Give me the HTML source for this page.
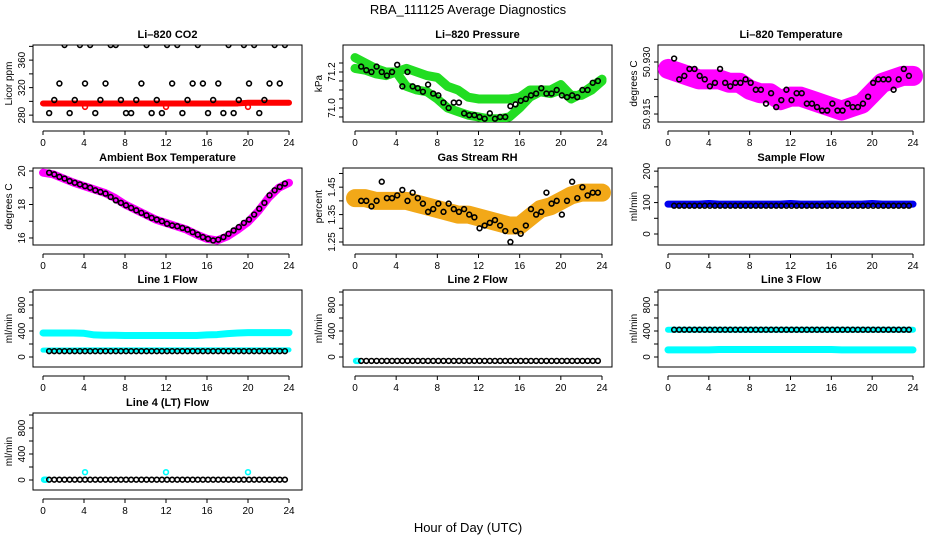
<!DOCTYPE html>
<html><head><meta charset="utf-8">
<style>
html,body{margin:0;padding:0;background:#fff;}
svg{display:block;font-family:"Liberation Sans",sans-serif;}
</style></head>
<body>
<svg id="chart" width="936" height="540" viewBox="0 0 936 540">
<text x="468" y="14" text-anchor="middle" font-size="13">RBA_111125  Average Diagnostics</text>
<text x="468" y="532" text-anchor="middle" font-size="13">Hour of Day (UTC)</text>
</svg>
<script>
// ---- data ----
const xTicks = [0,4,8,12,16,20,24];
const blackHours = [0.6,1.1,1.6,2.1,2.6,3.1,3.6,4.1,4.6,5.1,5.6,6.1,6.6,7.1,7.6,8.1,8.6,9.1,9.6,10.1,10.6,11.1,11.6,12.1,12.6,13.1,13.6,14.1,14.6,15.1,15.6,16.1,16.6,17.1,17.6,18.1,18.6,19.1,19.6,20.1,20.6,21.1,21.6,22.1,22.6,23.1,23.6];
const bandHours = [0,1,2,3,4,5,6,7,8,9,10,11,12,13,14,15,16,17,18,19,20,21,22,23,24];

const co2Black = [283,302,326,382,283,302,382,326,382,283,302,326,382,382,302,283,283,302,326,382,283,302,283,382,326,382,283,302,326,382,326,283,302,326,283,382,283,302,382,326,382,283,302,326,382,326,382];
const co2Red = [297,297,297,297,297,297,297,297,297,297,297,297,297,297,297,297,297,297,297,297,298,298,298,298,298];
const co2OutHours = [4.1,12,20];
const co2OutValues = [292,292,292];

const presBlack = [71.23,71.21,71.2,71.23,71.2,71.18,71.2,71.24,71.12,71.2,71.12,71.11,71.09,71.13,71.08,71.07,71.03,71.0,71.03,71.03,70.97,70.96,70.96,70.95,70.94,70.97,70.94,70.95,70.95,71.01,71.02,71.04,71.05,71.07,71.08,71.11,71.08,71.08,71.1,71.07,71.06,71.07,71.06,71.1,71.1,71.14,71.15];
const presUpper = [71.28,71.25,71.22,71.2,71.2,71.22,71.2,71.18,71.17,71.12,71.1,71.06,71.05,71.05,71.05,71.05,71.06,71.1,71.1,71.1,71.13,71.07,71.07,71.1,71.15];
const presLower = [71.22,71.21,71.19,71.18,71.2,71.12,71.1,71.09,71.05,71.0,70.98,70.96,70.95,70.94,70.94,70.95,71.0,71.06,71.09,71.08,71.1,71.05,71.08,71.12,71.16];

const tempBlack = [50.931,50.925,50.926,50.928,50.928,50.926,50.925,50.923,50.924,50.928,50.924,50.923,50.924,50.924,50.925,50.924,50.922,50.922,50.918,50.921,50.917,50.919,50.922,50.919,50.921,50.921,50.918,50.918,50.917,50.916,50.916,50.918,50.916,50.916,50.918,50.917,50.917,50.918,50.920,50.924,50.925,50.925,50.925,50.922,50.925,50.928,50.926];
const tempBand = [50.928,50.927,50.926,50.925,50.925,50.925,50.924,50.924,50.922,50.921,50.921,50.919,50.920,50.920,50.919,50.918,50.917,50.916,50.917,50.918,50.921,50.924,50.925,50.926,50.926];

const ambBlack = [19.9,19.8,19.65,19.55,19.4,19.3,19.2,19.1,19.0,18.85,18.75,18.65,18.45,18.25,18.1,17.95,17.8,17.65,17.5,17.35,17.2,17.1,17.0,16.85,16.75,16.7,16.6,16.5,16.35,16.2,16.05,15.95,15.85,15.9,16.05,16.25,16.45,16.65,16.9,17.1,17.4,17.75,18.1,18.55,18.85,19.05,19.25];
const ambBand = [19.9,19.8,19.55,19.3,19.1,18.9,18.7,18.4,18.0,17.7,17.4,17.1,16.9,16.7,16.5,16.2,15.95,15.85,16.1,16.5,16.95,17.6,18.4,19.0,19.3];

const rhBlack = [1.40,1.40,1.38,1.40,1.47,1.41,1.41,1.42,1.44,1.40,1.43,1.41,1.39,1.36,1.37,1.39,1.36,1.39,1.37,1.36,1.37,1.35,1.34,1.30,1.31,1.32,1.33,1.31,1.29,1.25,1.29,1.28,1.31,1.37,1.35,1.36,1.43,1.39,1.40,1.35,1.40,1.47,1.41,1.45,1.42,1.43,1.43];
const rhBand = [1.41,1.41,1.40,1.40,1.40,1.40,1.39,1.38,1.37,1.36,1.35,1.35,1.34,1.33,1.32,1.31,1.31,1.34,1.37,1.38,1.40,1.42,1.43,1.43,1.43];

const sampleBlack = 90;
const sampleBand = [95,95,95,95,97,95,95,95,95,95,95,95,97,95,95,95,96,95,95,95,97,95,95,95,95];

const line1Black = 90;
const line1Upper = [370,370,370,370,365,340,335,335,330,330,330,330,330,330,330,330,340,345,360,370,375,375,375,375,375];
const line1Lower = [105,108,108,108,110,110,110,110,110,110,110,110,110,110,110,110,110,110,110,110,110,110,110,110,110];
const line2Black = -60;
const line2Cyan = -60;
const line3Black = 420;
const line3Upper = [420,420,420,420,420,420,420,420,420,420,420,420,420,420,420,420,420,420,420,420,420,420,420,420,420];
const line3Lower = [110,110,110,110,110,115,115,115,115,115,115,115,115,115,115,115,115,110,110,110,110,110,110,110,110];
const line4Black = 5;
const line4OutHours = [4.1,12,20];
const line4OutValues = [120,120,120];

const co2Ticks=[280,300,320,340,360,380], co2Labels=[280,320,360];
const presTicks=[70.95,71.0,71.05,71.1,71.15,71.2,71.25], presLabels=[71.0,71.2];
const tempTicks=[50.915,50.92,50.925,50.93], tempLabels=[50.915,50.930];
const ambTicks=[16,17,18,19,20], ambLabels=[16,18,20];
const rhTicks=[1.25,1.30,1.35,1.40,1.45,1.50], rhLabels=[1.25,1.35,1.45];
const sampTicks=[0,50,100,150,200], sampLabels=[0,100,200];
const flowTicks=[0,200,400,600,800,1000], flowLabels=[0,400,800];

// ---- layout ----
const NS="http://www.w3.org/2000/svg";
const svg=document.getElementById('chart');
const cols=[{l:33,r:302,x0:43,x24:289},{l:343,r:612,x0:355,x24:602},{l:658,r:924,x0:668,x24:913}];
const rows=[45,168,290,413];
const H=77;
function mk(tag,attrs,parent){const e=document.createElementNS(NS,tag);for(const k in attrs)e.setAttribute(k,attrs[k]);(parent||svg).appendChild(e);return e;}

function panel(name,title,ci,ri,vTop,vBot,ticks,labels,fmt,ytitle){
  const c=cols[ci], top=rows[ri], bot=top+H;
  const g=mk('g',{});
  
  
  const X=h=>c.x0+(h/24)*(c.x24-c.x0);
  const Y=v=>top+(vTop-v)/(vTop-vBot)*H;
  const t=mk('text',{x:(c.l+c.r)/2,y:top-7,'text-anchor':'middle','font-size':'11','font-weight':'bold'},g);
  t.textContent=title;
  
  
  const box=mk('rect',{x:c.l,y:top,width:c.r-c.l,height:H,fill:'none',stroke:'#000','stroke-width':1},g);
  
  
  // x axis
  const xa=mk('g',{},g);
  
  
  const ay=bot+9;
  mk('line',{x1:X(xTicks[0]),x2:X(xTicks[xTicks.length-1]),y1:ay,y2:ay,stroke:'#000'},xa);
  xTicks.forEach(v=>{mk('line',{x1:X(v),x2:X(v),y1:ay,y2:ay+4,stroke:'#000'},xa);
    const tl=mk('text',{x:X(v),y:ay+15,'text-anchor':'middle','font-size':'10'},xa);tl.textContent=v;});
  // y axis
  const ya=mk('g',{},g);
  
  
  mk('line',{x1:c.l,x2:c.l,y1:Y(ticks[0]),y2:Y(ticks[ticks.length-1]),stroke:'#000'},ya);
  ticks.forEach(v=>mk('line',{x1:c.l-4,x2:c.l,y1:Y(v),y2:Y(v),stroke:'#000'},ya));
  labels.forEach(v=>{const yy=Y(v);const tl=mk('text',{x:c.l-8,y:yy,'text-anchor':'middle','font-size':'10',transform:`rotate(-90 ${c.l-8} ${yy})`},ya);tl.textContent=fmt(v);});
  const yt=mk('text',{x:c.l-21,y:(top+bot)/2,'text-anchor':'middle','font-size':'10',transform:`rotate(-90 ${c.l-21} ${(top+bot)/2})`},g);
  yt.textContent=ytitle;
  
  
  const clip='clip-'+name;
  const cp=mk('clipPath',{id:clip},g);mk('rect',{x:c.l,y:top,width:c.r-c.l,height:H},cp);
  const layer=mk('g',{'clip-path':`url(#${clip})`},g);
  return {X,Y,layer,g};
}
function band(p,name,hours,vals,halfPx,color){
  const pts=hours.map((h,i)=>p.X(h)+','+p.Y(vals[i])).join(' ');
  const e=mk('polyline',{points:pts,fill:'none',stroke:color,'stroke-width':halfPx*2,'stroke-linecap':'round','stroke-linejoin':'round'},p.layer);
  
  
}
function pts(p,name,hours,vals,color){
  const grp=mk('g',{},p.layer);
  
  
  hours.forEach((h,i)=>{const v=Array.isArray(vals)?vals[i]:vals;
    mk('circle',{cx:p.X(h),cy:p.Y(v),r:2.4,fill:'none',stroke:color,'stroke-width':1.6},grp);});
}
const fInt=v=>String(v), f1=v=>v.toFixed(1), f2=v=>v.toFixed(2), f3=v=>v.toFixed(3);

// Li-820 CO2
let p=panel('co2','Li\u2013820 CO2',0,0,382,270,co2Ticks,co2Labels,fInt,'Licor ppm');
band(p,'co2-red-band',bandHours,co2Red,3,'#ff0000');
pts(p,'co2-red-outliers',co2OutHours,co2OutValues,'#ff0000');
pts(p,'co2-black-points',blackHours,co2Black,'#000');
// Pressure
p=panel('pressure','Li\u2013820 Pressure',1,0,71.35,70.922,presTicks,presLabels,f1,'kPa');
band(p,'pressure-green-upper',bandHours,presUpper,4.5,'#22dd22');
band(p,'pressure-green-lower',bandHours,presLower,4.5,'#22dd22');
pts(p,'pressure-black-points',blackHours,presBlack,'#000');
// Temperature
p=panel('li820-temp','Li\u2013820 Temperature',2,0,50.9349,50.9127,tempTicks,tempLabels,f3,'degrees C');
band(p,'temp-magenta-band',bandHours,tempBand,10,'#ff00ff');
pts(p,'temp-black-points',blackHours,tempBlack,'#000');
// Ambient
p=panel('ambient','Ambient Box Temperature',0,1,20.18,15.58,ambTicks,ambLabels,fInt,'degrees C');
band(p,'ambient-magenta-band',bandHours,ambBand,4,'#ff00ff');
pts(p,'ambient-black-points',blackHours,ambBlack,'#000');
// RH
p=panel('rh','Gas Stream RH',1,1,1.52,1.239,rhTicks,rhLabels,f2,'percent');
band(p,'rh-orange-band',bandHours,rhBand,9,'#f2a818');
pts(p,'rh-black-points',blackHours,rhBlack,'#000');
// Sample flow
p=panel('sample-flow','Sample Flow',2,1,210,-35,sampTicks,sampLabels,fInt,'ml/min');
band(p,'sample-blue-band',bandHours,sampleBand,3.5,'#0000ee');
pts(p,'sample-black-points',blackHours,sampleBlack,'#000');
// Line 1
p=panel('line1','Line 1 Flow',0,2,1031,-154,flowTicks,flowLabels,fInt,'ml/min');
band(p,'line1-cyan-upper',bandHours,line1Upper,3.5,'#00ffff');
band(p,'line1-cyan-lower',bandHours,line1Lower,2.5,'#00ffff');
pts(p,'line1-black-points',blackHours,line1Black,'#000');
// Line 2
p=panel('line2','Line 2 Flow',1,2,1031,-154,flowTicks,flowLabels,fInt,'ml/min');
pts(p,'line2-cyan-points',[0.1,0.2,0.3],line2Cyan,'#00ffff');
pts(p,'line2-black-points',blackHours,line2Black,'#000');
// Line 3
p=panel('line3','Line 3 Flow',2,2,1031,-154,flowTicks,flowLabels,fInt,'ml/min');
band(p,'line3-cyan-upper',bandHours,line3Upper,3,'#00ffff');
band(p,'line3-cyan-lower',bandHours,line3Lower,3.5,'#00ffff');
pts(p,'line3-black-points',blackHours,line3Black,'#000');
// Line 4
p=panel('line4','Line 4 (LT) Flow',0,3,1031,-154,flowTicks,flowLabels,fInt,'ml/min');
pts(p,'line4-cyan-points',[0.1,0.2,0.3],line4Black,'#00ffff');
pts(p,'line4-cyan-outliers',line4OutHours,line4OutValues,'#00ffff');
pts(p,'line4-black-points',blackHours,line4Black,'#000');
</script>
</body></html>
